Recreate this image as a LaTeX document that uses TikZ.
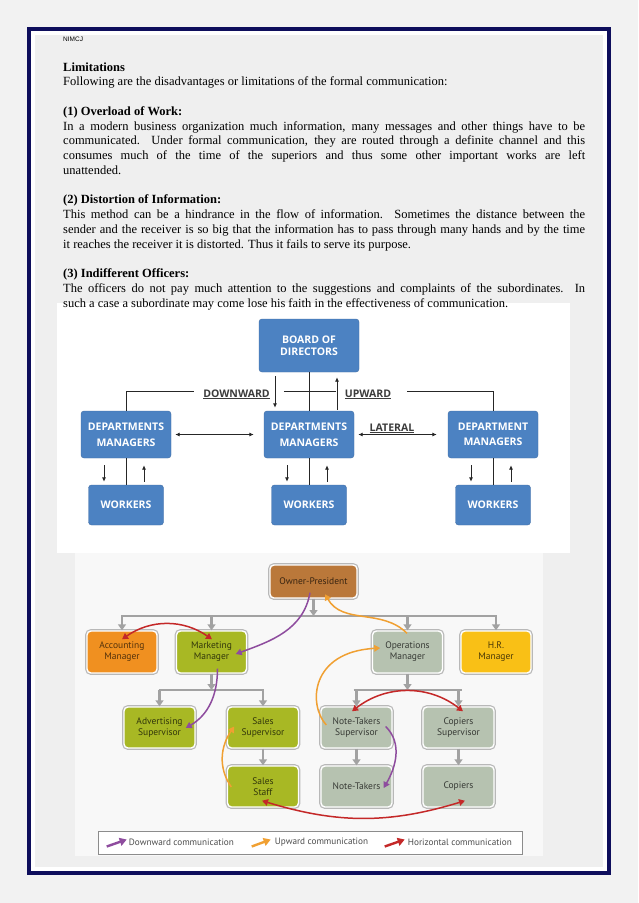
\documentclass[tikz,border=0pt]{standalone}
\usepackage{fontspec}
\setmainfont{Liberation Serif}
\newfontfamily\headsans{Liberation Sans}
\newfontfamily\chartsans{Open Sans}
\newfontfamily\orgsans{PT Sans}
\usepackage{xcolor}
\usepackage{tikz}
\usetikzlibrary{positioning,calc,arrows.meta}

\definecolor{pagegray}{RGB}{242,242,242}
\definecolor{sheetgray}{RGB}{239,239,239}
\definecolor{framenavy}{RGB}{14,14,92}
\definecolor{chartblue}{RGB}{76,130,194}
\definecolor{labelgray}{RGB}{60,60,60}
\definecolor{orgbg}{RGB}{248,248,248}
\definecolor{ownerbrown}{RGB}{186,120,58}
\definecolor{acctorange}{RGB}{240,144,32}
\definecolor{mktolive}{RGB}{168,184,36}
\definecolor{opssage}{RGB}{182,194,176}
\definecolor{hryellow}{RGB}{249,192,22}
\definecolor{busgray}{RGB}{162,162,162}
\definecolor{downpurple}{RGB}{142,76,158}
\definecolor{uporange}{RGB}{240,160,50}
\definecolor{sidered}{RGB}{196,40,40}

\begin{document}
\begin{tikzpicture}[x=1pt, y=-1pt,
  bluebox/.style={fill=chartblue, draw=chartblue!85!black, line width=0.4pt, rounded corners=3pt,
    text=white, align=center, inner sep=0pt, font=\chartsans\bfseries\fontsize{10.5}{15.5}\selectfont},
  flowlbl/.style={text=labelgray, inner sep=0pt, font=\chartsans\bfseries\fontsize{10.5}{12}\selectfont},
  thinline/.style={line width=0.9pt, black!85},
  thinarrow/.style={thinline, -{Latex[length=4.5pt,width=4pt]}},
  twoway/.style={thinline, {Latex[length=4.5pt,width=4pt]}-{Latex[length=4.5pt,width=4pt]}},
  orgbox/.style={rounded corners=4pt, draw=white, line width=1.4pt, preaction={draw=black!28, line width=3.8pt},
    align=center, inner sep=0pt, minimum width=71pt, minimum height=41pt, font=\orgsans\fontsize{9.5}{10.9}\selectfont},
  busline/.style={busgray, line width=2.6pt},
  busarrow/.style={busgray, line width=2.6pt, -{Triangle[width=8pt,length=6pt]}},
  comm/.style={line width=1.5pt, -{Triangle[width=6.5pt,length=6pt]}},
  commboth/.style={line width=1.5pt, {Triangle[width=6.5pt,length=6pt]}-{Triangle[width=6.5pt,length=6pt]}},
  legendicon/.style={line width=2.4pt, -{Triangle[width=8pt,length=7pt]}},
  legendtxt/.style={inner sep=0pt, text=black!70, font=\orgsans\fontsize{9.2}{10}\selectfont},
]
  \useasboundingbox (0,0) rectangle (638,903);
  \fill[pagegray] (0,0) rectangle (638,903);
  % page frame
  \fill[framenavy] (27,27) rectangle (611,875);
  \fill[white] (31,31) rectangle (607,871);
  \fill[sheetgray] (35,35) rectangle (603,867);
  \fill[white] (57,303) rectangle (570,553);
  \fill[orgbg] (75,553) rectangle (543,856);

  % text of the page
  \node[anchor=base west, inner sep=0pt, font=\headsans\fontsize{6.5}{8}\selectfont] (runhead) at (63,41.5) {NIMCJ};
  \node[anchor=base west, inner sep=0pt, text width=522pt, align=justify, font=\fontsize{12.5}{14.75}\selectfont] (body) at (63,71) {%
    {\bfseries Limitations}\par
    Following are the disadvantages or limitations of the formal communication:\par
    \vspace{14.75pt}
    {\bfseries (1) Overload of Work:}\par
    In a modern business organization much information, many messages and other things have to be\linebreak
    communicated. Under formal communication, they are routed through a definite channel and this\linebreak
    consumes much of the time of the superiors and thus some other important works are left\linebreak
    unattended.\par
    \vspace{14.75pt}
    {\bfseries (2) Distortion of Information:}\par
    This method can be a hindrance in the flow of information. Sometimes the distance between the\linebreak
    sender and the receiver is so big that the information has to pass through many hands and by the time\linebreak
    it reaches the receiver it is distorted. Thus it fails to serve its purpose.\par
    \vspace{14.75pt}
    {\bfseries (3) Indifferent Officers:}\par
    The officers do not pay much attention to the suggestions and complaints of the subordinates. In\linebreak
    such a case a subordinate may come lose his faith in the effectiveness of communication.};

  % first chart
  \node[bluebox, minimum width=100pt, minimum height=53pt, font=\chartsans\bfseries\fontsize{10.5}{12.3}\selectfont] (board) at (309,345.5) {BOARD OF\\DIRECTORS};
  \node[bluebox, minimum width=90pt, minimum height=47pt] (dmleft) at (126,434.5) {DEPARTMENTS\\MANAGERS};
  \node[bluebox, minimum width=90pt, minimum height=47pt] (dmmid) at (309,434.5) {DEPARTMENTS\\MANAGERS};
  \node[bluebox, minimum width=90pt, minimum height=47pt] (dmright) at (493,434.5) {DEPARTMENT\\MANAGERS};
  \node[bluebox, minimum width=75pt, minimum height=40pt] (wkleft) at (126,505) {WORKERS};
  \node[bluebox, minimum width=75pt, minimum height=40pt] (wkmid) at (309,505) {WORKERS};
  \node[bluebox, minimum width=75pt, minimum height=40pt] (wkright) at (493,505) {WORKERS};

  \node[flowlbl, anchor=base] (downlbl) at (236.5,397) {\underline{DOWNWARD}};
  \node[flowlbl, anchor=base] (uplbl) at (368,397) {\underline{UPWARD}};
  \node[flowlbl, anchor=base] (latlbl) at (392,431) {\underline{LATERAL}};
  \coordinate (flowlvl) at (0,391);

  \draw[thinline] (board.south) -- (dmmid.north);
  \draw[thinline] (dmleft.north) |- ($(downlbl.west |- flowlvl)+(-9,0)$);
  \draw[thinline] ($(downlbl.east |- flowlvl)+(14,0)$) -- ($(uplbl.west |- flowlvl)+(-9,0)$);
  \draw[thinline] ($(uplbl.east |- flowlvl)+(16,0)$) -| (dmright.north);
  \draw[thinarrow] ($(board.south)+(-34,4)$) -- ($(dmmid.north)+(-34,-3)$);
  \draw[thinarrow] ($(dmmid.north)+(28,-1)$) -- ($(board.south)+(28,5)$);
  \draw[twoway] ($(dmleft.east)+(4,0)$) -- ($(dmmid.west)+(-10,0)$);
  \draw[twoway] ($(dmmid.east)+(4,0)$) -- ($(dmright.west)+(-11,0)$);
  \foreach \col in {left,mid,right} {
    \draw[thinline] (dm\col.south) -- (wk\col.north);
    \draw[thinarrow] ($(dm\col.south)+(-22,7)$) -- ($(wk\col.north)+(-22,-3)$);
    \draw[thinarrow] ($(wk\col.north)+(18,-3)$) -- ($(dm\col.south)+(18,7)$);
  }

  % second chart
  \node[orgbox, fill=ownerbrown, minimum width=87pt, minimum height=33pt, text=ownerbrown!30!black] (owner) at (313.5,581.5) {Owner-President};
  \node[orgbox, fill=acctorange, minimum width=70pt, minimum height=42pt, text=acctorange!35!black] (acct) at (122,652) {Accounting\\Manager};
  \node[orgbox, fill=mktolive, minimum width=70pt, minimum height=42pt, text=mktolive!30!black] (mkt) at (211.5,652) {Marketing\\Manager};
  \node[orgbox, fill=opssage, minimum width=70pt, minimum height=42pt, text=opssage!30!black] (ops) at (407.5,652) {Operations\\Manager};
  \node[orgbox, fill=hryellow, minimum width=70pt, minimum height=42pt, text=hryellow!30!black] (hr) at (496,652) {H.R.\\Manager};
  \node[orgbox, fill=mktolive, text=mktolive!30!black] (adsup) at (159.5,727.5) {Advertising\\Supervisor};
  \node[orgbox, fill=mktolive, text=mktolive!30!black] (salesup) at (263,727.5) {Sales\\Supervisor};
  \node[orgbox, fill=opssage, text=opssage!30!black] (notesup) at (356.5,727.5) {Note-Takers\\Supervisor};
  \node[orgbox, fill=opssage, text=opssage!30!black] (copsup) at (458.5,727.5) {Copiers\\Supervisor};
  \node[orgbox, fill=mktolive, text=mktolive!30!black] (salestaff) at (263,786.5) {Sales\\Staff};
  \node[orgbox, fill=opssage, text=opssage!30!black] (notes) at (356.5,786.5) {Note-Takers};
  \node[orgbox, fill=opssage, text=opssage!30!black] (copiers) at (458.5,786.5) {Copiers};

  \coordinate (topbus) at (0,616);
  \coordinate (subbus) at (0,690);
  \draw[busarrow] (owner.south) -- (owner.south |- topbus);
  \draw[busline] ($(acct.north |- topbus)+(-1,0)$) -- ($(hr.north |- topbus)+(1,0)$);
  \foreach \n in {acct,mkt,ops,hr}
    \draw[busarrow] (\n.north |- topbus) -- (\n.north);
  \draw[busarrow] (mkt.south) -- (mkt.south |- subbus);
  \draw[busline] ($(adsup.north |- subbus)+(-1,0)$) -- ($(salesup.north |- subbus)+(1,0)$);
  \draw[busarrow] (ops.south) -- (ops.south |- subbus);
  \draw[busline] ($(notesup.north |- subbus)+(-3,0)$) -- ($(copsup.north |- subbus)+(3,0)$);
  \foreach \n in {adsup,salesup,notesup,copsup}
    \draw[busarrow] (\n.north |- subbus) -- (\n.north);
  \draw[busarrow] (salesup.south) -- (salestaff.north);
  \draw[busarrow] (notesup.south) -- (notes.north);
  \draw[busarrow] (copsup.south) -- (copiers.north);

  % communication flows
  \draw[comm, downpurple] ($(owner.south)+(-3.5,-6)$) to[out=-100, in=20] ($(mkt.east)+(-11.5,2)$);
  \draw[comm, downpurple] ($(mkt.south)+(6,-5)$) to[out=-90, in=30] ($(adsup.east)+(-10,0.5)$);
  \draw[comm, downpurple] ($(notesup.east)+(-7,-1)$) to[out=-45, in=60] ($(notes.east)+(-9,1.5)$);
  \draw[comm, uporange] ($(ops.north)+(-0.5,3)$) to[out=135, in=-60] ($(owner.south)+(11.5,-4.5)$);
  \draw[comm, uporange] ($(notesup.west)+(6,-2.5)$) .. controls (308,705) and (310,652) .. ($(ops.west)+(8.5,-4)$);
  \draw[comm, uporange] ($(salestaff.west)+(4.5,0.5)$) to[out=125, in=-125] ($(salesup.west)+(7.5,-1)$);
  \draw[commboth, sidered] ($(acct.north)+(0,9)$) to[out=35, in=145] ($(mkt.north)+(0.5,9)$);
  \draw[commboth, sidered] ($(notesup.north)+(-4.5,5)$) to[out=38, in=142] ($(copsup.north)+(4.5,5)$);
  \draw[commboth, sidered] ($(salestaff.south)+(-1,-7)$) to[out=-17, in=-163] ($(copiers.south)+(6.5,-7)$);

  % legend
  \node[draw=black!45, line width=0.6pt, fill=white, minimum width=424pt, minimum height=23pt, inner sep=0pt] (legend) at (310,842.5) {};
  \draw[legendicon, downpurple] ($(legend.west)+(9,4)$) -- ++(20,-7);
  \node[legendtxt, anchor=west] (lgdown) at ($(legend.west)+(31,0)$) {Downward communication};
  \draw[legendicon, uporange] ($(legend.west)+(154,4)$) -- ++(19,-7);
  \node[legendtxt, anchor=west] (lgup) at ($(legend.west)+(177,0)$) {Upward communication};
  \draw[legendicon, sidered] ($(legend.west)+(287,4)$) -- ++(20,-7);
  \node[legendtxt, anchor=west] (lgside) at ($(legend.west)+(310,0)$) {Horizontal communication};
\end{tikzpicture}
\end{document}
